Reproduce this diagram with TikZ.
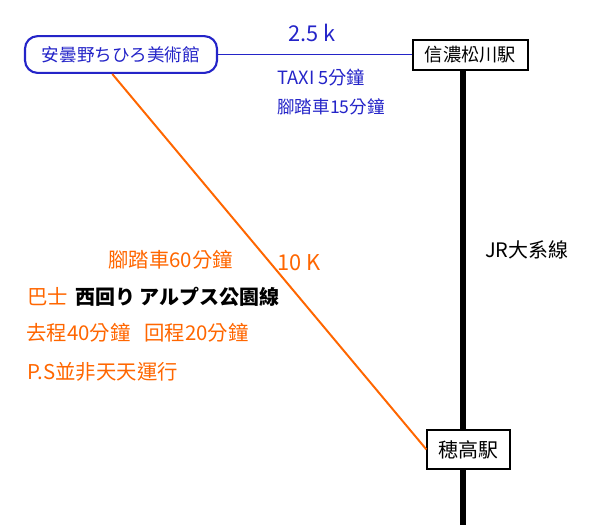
\documentclass[tikz,border=0pt]{standalone}
\usepackage{fontspec}
\setmainfont{Noto Sans CJK TC}
\usetikzlibrary{calc,backgrounds}
\definecolor{taxiblue}{RGB}{36,36,200}
\definecolor{busorange}{RGB}{255,102,0}
\tikzset{
  station/.style={draw=black,fill=white,line width=0.8pt,inner sep=0pt,font=\fontsize{13}{15}\selectfont},
  museumbox/.style={draw=taxiblue,fill=white,line width=1.5pt,rounded corners=9pt,inner sep=0pt,
    minimum width=4.8cm,minimum height=0.92cm,text=taxiblue,font=\fontsize{12.5}{15}\selectfont},
  note/.style={anchor=west,inner sep=0pt,font=\fontsize{12.5}{15}\selectfont},
  busnote/.style={note,text=busorange,font=\fontsize{14.5}{17}\selectfont}
}
\begin{document}
\begin{tikzpicture}[x=0.025cm,y=-0.025cm]
\useasboundingbox (0,0) rectangle (600,529);

\node[museumbox] (museum) at (121,54.5) {安曇野ちひろ美術館};
\node[station,minimum width=2.875cm,minimum height=0.75cm] (shinano) at (470.5,55) {信濃松川駅};
\node[station,minimum width=2.075cm,minimum height=0.975cm,font=\fontsize{14.2}{16}\selectfont] (hotaka) at (468.5,449.5) {穂高駅};

\coordinate (railtop) at (463,70);
\coordinate (railend) at (463,525);
\begin{scope}[on background layer]
\draw[line width=3.6pt] (railtop) -- (railend);
\end{scope}

\draw[taxiblue,line width=0.8pt] (museum.east) -- (museum.east -| shinano.west);
\draw[busorange,line width=1.4pt] ($(museum.south west)!0.455!(museum.south east)$) -- (hotaka.west);

\node[note,text=taxiblue,font=\fontsize{15.5}{17}\selectfont] (dist1) at (288,33) {2.5 k};
\node[note,text=taxiblue,font=\fontsize{13}{15}\selectfont] (taxi) at (277,78) {TAXI 5分鐘};
\node[note,text=taxiblue] (bike1) at (277,107) {腳踏車15分鐘};

\node[note,font=\fontsize{14.2}{16}\selectfont] (jr) at (485,250) {JR大系線};

\node[busnote,font=\fontsize{15.5}{17}\selectfont] (dist2) at (277,263) {10 K};
\node[busnote] (bike2) at (108,260) {腳踏車60分鐘};
\node[busnote,font=\fontsize{14.5}{17}\selectfont] (bus) at (27,297) {巴士};
\node[note,fill=white,inner xsep=4pt,inner ysep=2pt,font=\bfseries\fontsize{14.2}{16}\selectfont] (busline) at ($(bus.east)+(1,0)$) {西回り アルプス公園線};
\node[busnote] (times) at (26,333) {去程40分鐘\hspace{0.35cm}回程20分鐘};
\node[busnote] (ps) at (27,372) {P.S並非天天運行};
\end{tikzpicture}
\end{document}
